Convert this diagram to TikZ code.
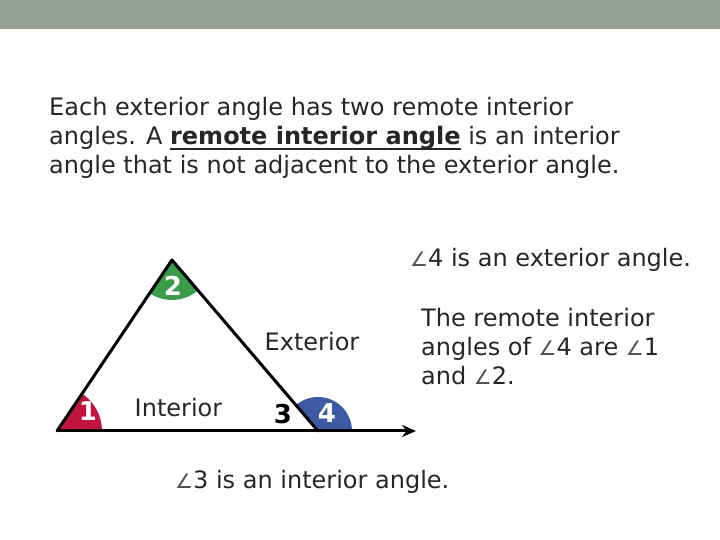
\documentclass[tikz,border=0pt]{standalone}
\usepackage{fontspec}
\setmainfont{DejaVu Sans}
\newfontfamily\lblfont{DejaVu Sans}
\usetikzlibrary{arrows.meta}
\definecolor{barcol}{HTML}{92A095}
\definecolor{txtcol}{HTML}{262626}
\definecolor{angred}{HTML}{C0143C}
\definecolor{anggreen}{HTML}{3A9B48}
\definecolor{angblue}{HTML}{3D5AA5}
\newcommand{\ang}{{\color{txtcol!80}\fontsize{20}{24}\selectfont ∠}}
\newcommand{\myul}[1]{\setbox0\hbox{#1}\rlap{\rule[-5pt]{\wd0}{1.8pt}}\box0\relax}
\begin{document}
\begin{tikzpicture}[x=1pt,y=1pt,
  txt/.style={inner sep=0pt, anchor=base west, font=\fontsize{24}{29}\selectfont, text=txtcol},
  num/.style={inner sep=0pt, font=\lblfont\bfseries\fontsize{26}{26}\selectfont, text=white},
  side/.style={line width=3pt, line cap=round, line join=round}]
\useasboundingbox (0,0) rectangle (720,540);
\fill[barcol] (0,511) rectangle (720,540);
% paragraph
\node[txt] (p1) at (49,424) {Each exterior angle has two remote interior};
\node[txt] (p2) at (49,395) {angles. A \myul{\textbf{remote interior angle}} is an interior};
\node[txt] (p3) at (49,366) {angle that is not adjacent to the exterior angle.};
% triangle points
\coordinate (A) at (57,109);
\coordinate (B) at (172,280);
\coordinate (C) at (318,109);
\coordinate (D) at (416,109);
% angle sectors
\fill[angred] (A) -- ++(0:45) arc[start angle=0,end angle=56.1,radius=45] -- cycle;
\fill[anggreen] (B) -- ++(236.1:40) arc[start angle=236.1,end angle=310.5,radius=40] -- cycle;
\fill[angblue] (C) -- ++(0:34) arc[start angle=0,end angle=130.5,radius=34] -- cycle;
% sides
\draw[side] (A) -- (B) -- (C);
\draw[line width=3pt, -{Stealth[length=14pt,width=12pt]}] (A) -- (D);
% angle numbers
\node[num] (n1) at (88,129) {1};
\node[num] (n2) at (173,254) {2};
\node[num, text=black] (n3) at (283,126) {3};
\node[num] (n4) at (327,127) {4};
% region labels
\node[txt, anchor=center] (ext) at (312,198) {Exterior};
\node[txt, anchor=center] (int) at (178.5,132) {Interior};
% right text
\node[txt] (r1) at (410,273) {\ang4 is an exterior angle.};
\node[txt] (r2) at (421,213) {The remote interior};
\node[txt] (r3) at (421,184) {angles of \ang4 are \ang1};
\node[txt] (r4) at (421,155) {and \ang2.};
\node[txt] (b1) at (175,51) {\ang3 is an interior angle.};
\end{tikzpicture}
\end{document}
